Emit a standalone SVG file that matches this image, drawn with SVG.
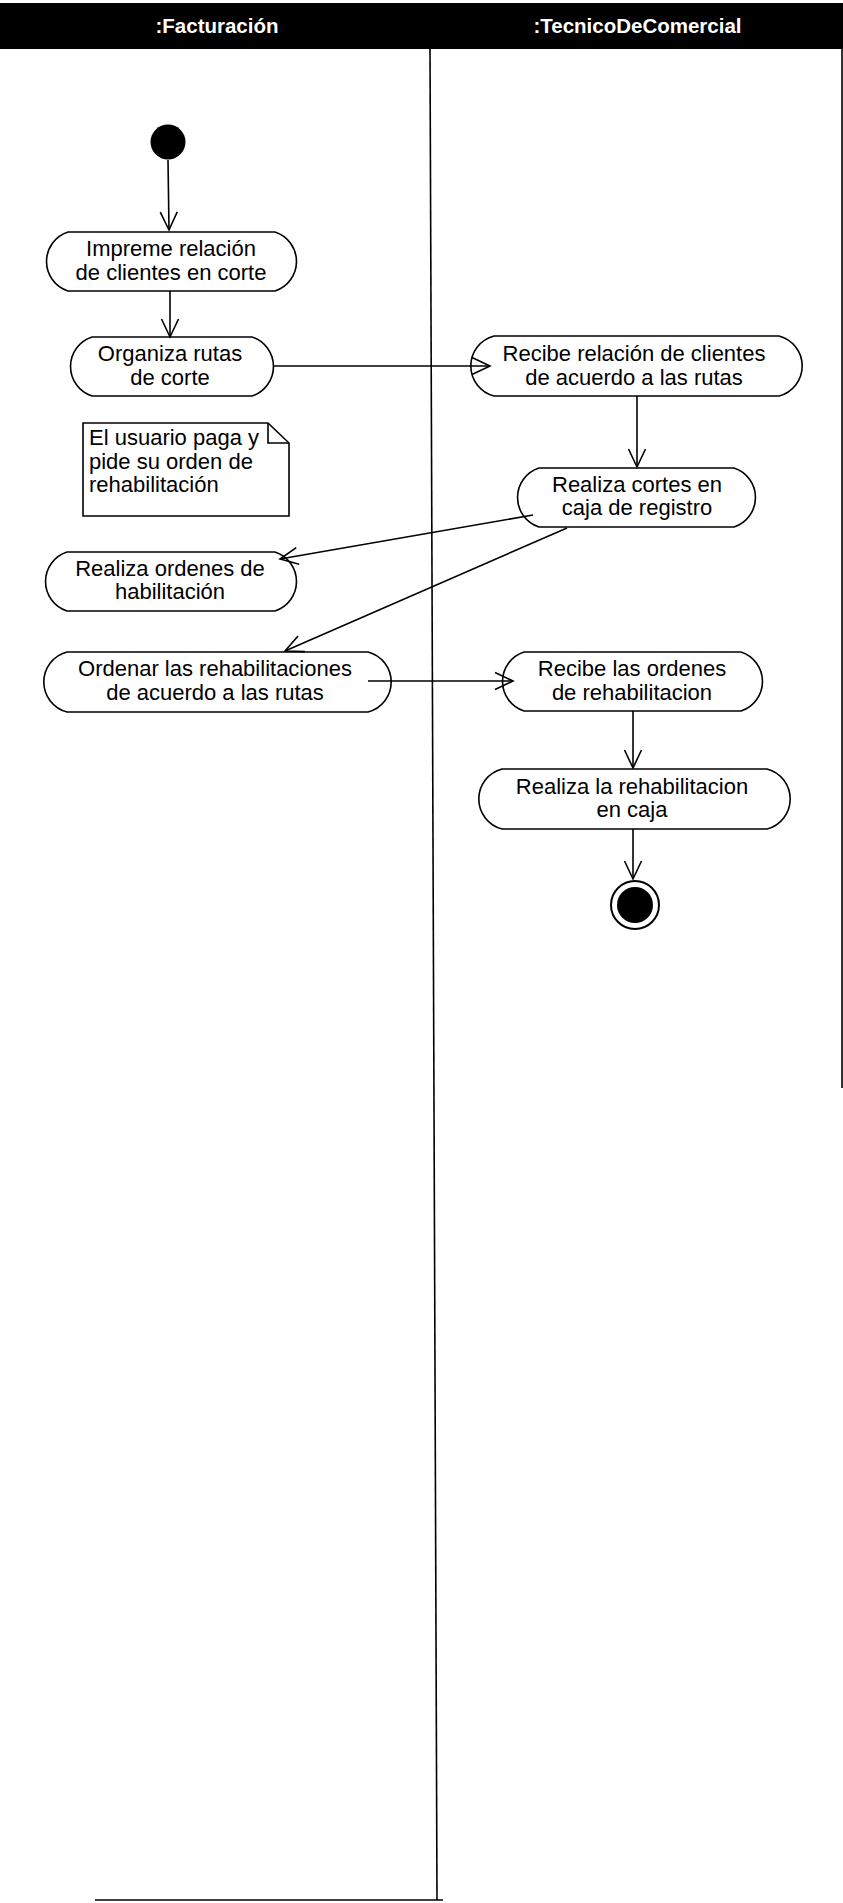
<svg xmlns="http://www.w3.org/2000/svg" width="843" height="1903" viewBox="0 0 843 1903">
  <defs>
    <style>
      .lane { stroke: #000; stroke-width: 1.6; fill: none; }
      .act { fill: #fff; stroke: #000; stroke-width: 1.6; }
      .lbl { font-family: "Liberation Sans", Arial, sans-serif; font-size: 22px; fill: #000; text-anchor: middle; }
      .note-t { font-family: "Liberation Sans", Arial, sans-serif; font-size: 22px; fill: #000; }
      .head { font-family: "Liberation Sans", Arial, sans-serif; font-size: 20.5px; font-weight: bold; fill: #fff; text-anchor: middle; }
      .flow { stroke: #000; stroke-width: 1.6; fill: none; marker-end: url(#open); }
    </style>
    <marker id="open" markerUnits="userSpaceOnUse" viewBox="-20 -10 22 20" refX="0" refY="0" markerWidth="22" markerHeight="20" orient="auto">
      <path d="M-18,-8.5 L0,0 L-18,8.5" fill="none" stroke="#000" stroke-width="1.6"/>
    </marker>
  </defs>

  <rect width="843" height="1903" fill="#fff"/>

  <!-- swimlane frame -->
  <g id="swimlanes">
    <rect x="0" y="3" width="843" height="46" fill="#000"/>
    <text class="head" x="217" y="33">:Facturación</text>
    <text class="head" x="637.5" y="33">:TecnicoDeComercial</text>
    <line class="lane" x1="430" y1="49" x2="437" y2="1900"/>
    <line class="lane" x1="842" y1="49" x2="842" y2="1088"/>
    <line class="lane" x1="95" y1="1900" x2="443" y2="1900"/>
  </g>

  <!-- start state -->
  <g id="start">
    <circle cx="168" cy="142" r="17.5" fill="#000"/>
  </g>

  <!-- activities -->
  <g id="act-impreme">
    <path class="act" d="M68,232 H275 A31,31 0 0 1 275,291 H68 A31,31 0 0 1 68,232 Z"/>
    <text class="lbl" x="171" y="256">Impreme relación</text>
    <text class="lbl" x="171" y="279.5">de clientes en corte</text>
  </g>

  <g id="act-organiza">
    <path class="act" d="M92,337 H252 A31,31 0 0 1 252,396 H92 A31,31 0 0 1 92,337 Z"/>
    <text class="lbl" x="170" y="361">Organiza rutas</text>
    <text class="lbl" x="170" y="384.5">de corte</text>
  </g>

  <g id="act-recibe-relacion">
    <path class="act" d="M494,336 H779 A31,31 0 0 1 779,396 H494 A31,31 0 0 1 494,336 Z"/>
    <text class="lbl" x="634" y="361">Recibe relación de clientes</text>
    <text class="lbl" x="634" y="384.5">de acuerdo a las rutas</text>
  </g>

  <g id="act-realiza-cortes">
    <path class="act" d="M539,468 H734 A31,31 0 0 1 734,527 H539 A31,31 0 0 1 539,468 Z"/>
    <text class="lbl" x="637" y="492">Realiza cortes en</text>
    <text class="lbl" x="637" y="515">caja de registro</text>
  </g>

  <g id="note">
    <path d="M83,423 H268 L289,443 V516 H83 Z" fill="#fff" stroke="#000" stroke-width="1.6"/>
    <path d="M268,423 V443 H289" fill="none" stroke="#000" stroke-width="1.6"/>
    <text class="note-t" x="89" y="445">El usuario paga y</text>
    <text class="note-t" x="89" y="468.5">pide su orden de</text>
    <text class="note-t" x="89" y="492">rehabilitación</text>
  </g>

  <g id="act-realiza-ordenes">
    <path class="act" d="M67,552 H275 A31,31 0 0 1 275,611 H67 A31,31 0 0 1 67,552 Z"/>
    <text class="lbl" x="170" y="575.5">Realiza ordenes de</text>
    <text class="lbl" x="170" y="598.5">habilitación</text>
  </g>

  <g id="act-ordenar">
    <path class="act" d="M67,652 H368 A31,31 0 0 1 368,712 H67 A31,31 0 0 1 67,652 Z"/>
    <text class="lbl" x="215" y="676">Ordenar las rehabilitaciones</text>
    <text class="lbl" x="215" y="699.5">de acuerdo a las rutas</text>
  </g>

  <g id="act-recibe-ordenes">
    <path class="act" d="M524,652 H741 A31,31 0 0 1 741,711 H524 A31,31 0 0 1 524,652 Z"/>
    <text class="lbl" x="632" y="675.5">Recibe las ordenes</text>
    <text class="lbl" x="632" y="699.5">de rehabilitacion</text>
  </g>

  <g id="act-realiza-rehab">
    <path class="act" d="M502,769 H767 A31,31 0 0 1 767,829 H502 A31,31 0 0 1 502,769 Z"/>
    <text class="lbl" x="632" y="793.5">Realiza la rehabilitacion</text>
    <text class="lbl" x="632" y="817">en caja</text>
  </g>

  <!-- end state -->
  <g id="end">
    <circle cx="635" cy="905" r="24" fill="#fff" stroke="#000" stroke-width="2"/>
    <circle cx="635" cy="905" r="18" fill="#000"/>
  </g>

  <!-- transitions, drawn over the activities so the arrowheads stay visible -->
  <g id="connectors">
    <line class="flow" x1="168" y1="160" x2="169" y2="230"/>
    <line class="flow" x1="170" y1="291" x2="170" y2="337"/>
    <line class="flow" x1="273" y1="366" x2="490" y2="366"/>
    <line class="flow" x1="637" y1="396" x2="637" y2="467"/>
    <line class="flow" x1="533" y1="515" x2="280" y2="559"/>
    <line class="flow" x1="567" y1="528" x2="285" y2="651"/>
    <line class="flow" x1="368" y1="681" x2="513" y2="681"/>
    <line class="flow" x1="633" y1="711" x2="633" y2="768"/>
    <line class="flow" x1="633" y1="829" x2="633" y2="879"/>
  </g>
</svg>
